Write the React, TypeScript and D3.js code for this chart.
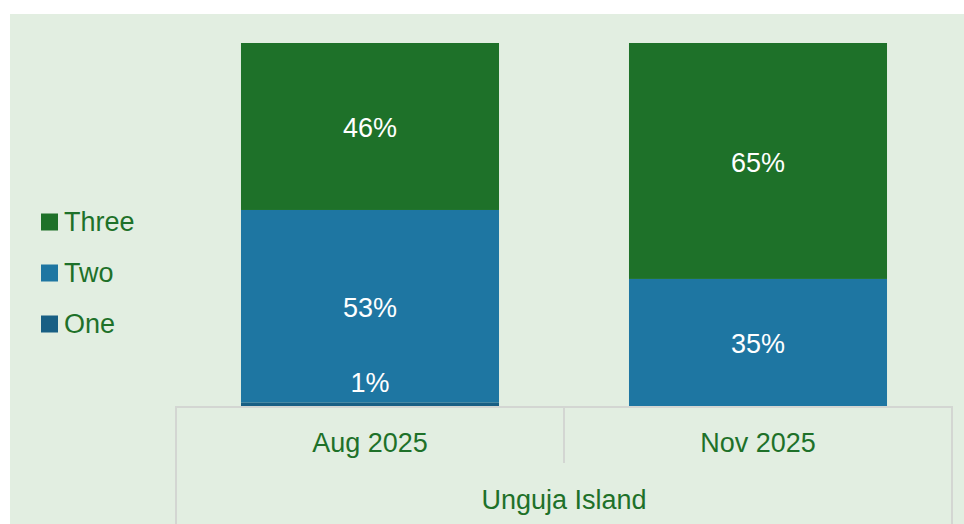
import { useEffect, useRef } from 'react';
import * as d3 from 'd3';

const categories = ['Aug 2025', 'Nov 2025'];
const groupLabel = 'Unguja Island';
const seriesNames = ['One', 'Two', 'Three'];
const one = [1, 0];
const two = [53, 35];
const three = [46, 65];
const colors = ['#185F84', '#1E76A2', '#1E7129'];

function App() {
  const svgRef = useRef<SVGSVGElement | null>(null);
  const width = 964;
  const height = 524;
  const plot = { left: 176, right: 952, top: 43, bottom: 406 };
  const font = 'Liberation Sans, Arial, sans-serif';

  useEffect(() => {
    const svg = d3.select(svgRef.current);
    svg.selectAll('*').remove();

    svg.append('rect').attr('x', 10).attr('y', 14).attr('width', width - 10).attr('height', height - 14).attr('fill', '#E2EEE1');

    const rows = categories.map((c, i) => ({ cat: c, One: one[i], Two: two[i], Three: three[i] }));
    const stacked = d3.stack<any>().keys(seriesNames)(rows);

    const x = d3
      .scaleBand()
      .domain(categories)
      .range([plot.left, plot.right])
      .paddingInner(0.335)
      .paddingOuter(0.1675);

    const y = d3.scaleLinear().domain([0, 100]).range([plot.bottom, plot.top]);

    const color = d3.scaleOrdinal<string>().domain(seriesNames).range(colors);

    svg
      .append('g')
      .selectAll('g')
      .data(stacked)
      .enter()
      .append('g')
      .attr('fill', (s) => color(s.key))
      .selectAll('rect')
      .data((s) => s.filter((d) => d[1] - d[0] > 0))
      .enter()
      .append('rect')
      .attr('x', (d) => x(d.data.cat) as number)
      .attr('y', (d) => y(d[1]))
      .attr('width', x.bandwidth())
      .attr('height', (d) => y(d[0]) - y(d[1]));

    // labels drawn after all segments so small ones stay visible
    svg
      .append('g')
      .selectAll('g')
      .data(stacked)
      .enter()
      .append('g')
      .selectAll('text')
      .data((s) => s.filter((d) => d[1] - d[0] > 0))
      .enter()
      .append('text')
      .attr('x', (d) => (x(d.data.cat) as number) + x.bandwidth() / 2)
      .attr('y', (d) => {
        const h = y(d[0]) - y(d[1]);
        return (h < 20 ? y(d[1]) - 21 : (y(d[0]) + y(d[1])) / 2) + 2;
      })
      .attr('text-anchor', 'middle')
      .attr('dominant-baseline', 'central')
      .attr('fill', '#ffffff')
      .attr('font-family', font)
      .attr('font-size', 27)
      .text((d) => `${d[1] - d[0]}%`);

    // axis grid of category labels
    const axis = svg.append('g').attr('stroke', '#D3D6D2').attr('stroke-width', 2);
    axis.append('line').attr('x1', plot.left).attr('x2', plot.right).attr('y1', plot.bottom + 1).attr('y2', plot.bottom + 1);
    axis.append('line').attr('x1', plot.left).attr('x2', plot.left).attr('y1', plot.bottom).attr('y2', height);
    axis.append('line').attr('x1', plot.right).attr('x2', plot.right).attr('y1', plot.bottom).attr('y2', height);
    const mid = (plot.left + plot.right) / 2;
    axis.append('line').attr('x1', mid).attr('x2', mid).attr('y1', plot.bottom).attr('y2', 463);

    svg
      .append('g')
      .selectAll('text')
      .data(categories)
      .enter()
      .append('text')
      .attr('x', (d) => (x(d) as number) + x.bandwidth() / 2)
      .attr('y', 443)
      .attr('text-anchor', 'middle')
      .attr('dominant-baseline', 'central')
      .attr('fill', '#1E7129')
      .attr('font-family', font)
      .attr('font-size', 27)
      .text((d) => d);

    svg
      .append('text')
      .attr('x', mid)
      .attr('y', 500)
      .attr('text-anchor', 'middle')
      .attr('dominant-baseline', 'central')
      .attr('fill', '#1E7129')
      .attr('font-family', font)
      .attr('font-size', 27)
      .text(groupLabel);

    // legend, top to bottom: Three, Two, One
    const legendItems = [...seriesNames].reverse();
    const legend = svg
      .append('g')
      .selectAll('g')
      .data(legendItems)
      .enter()
      .append('g')
      .attr('transform', (_d, i) => `translate(41,${222 + i * 51})`);

    legend.append('rect').attr('x', 0).attr('y', -8.5).attr('width', 17).attr('height', 17).attr('fill', (d) => color(d));

    legend
      .append('text')
      .attr('x', 23)
      .attr('y', 0)
      .attr('dominant-baseline', 'central')
      .attr('fill', '#1E7129')
      .attr('font-family', font)
      .attr('font-size', 27)
      .text((d) => d);
  }, []);

  return (
    <svg
      ref={svgRef}
      width={width}
      height={height}
      style={{ position: 'absolute', left: 0, top: 0, background: '#ffffff' }}
    />
  );
}

export default App;
